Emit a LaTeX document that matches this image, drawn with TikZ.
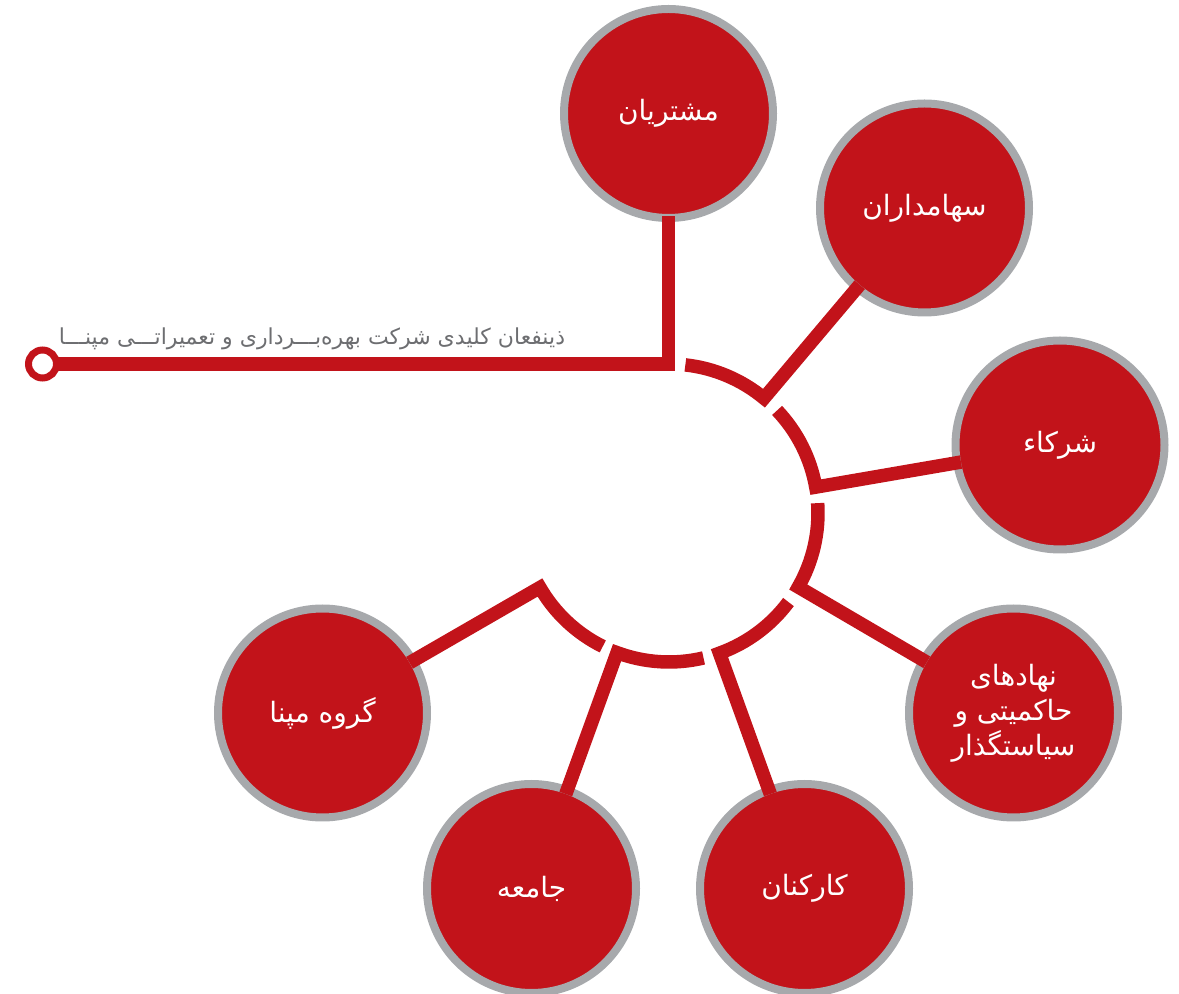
\documentclass[tikz,border=0pt]{standalone}
\usepackage{fontspec}
\TeXXeTstate=1
\newfontfamily\arabicfont[Script=Arabic]{DejaVu Sans}
\definecolor{mapnared}{HTML}{C2131A}
\definecolor{ringgray}{HTML}{A7A9AC}
\definecolor{titlegray}{HTML}{6D6E71}
\tikzset{
  party/.style={circle,draw=ringgray,fill=mapnared,line width=8pt,minimum size=209pt,inner sep=0pt,outer sep=0pt,text=white,font=\arabicfont\fontsize{28}{35}\selectfont,align=center},
  link/.style={draw=mapnared,line width=13.5pt,line join=miter,miter limit=12,shorten >=-4pt},
  titletext/.style={text=titlegray,font=\arabicfont\fontsize{22}{26}\selectfont,inner sep=0pt},
  startring/.style={circle,draw=mapnared,fill=white,line width=7pt,minimum size=28pt,inner sep=0pt,outer sep=0pt}
}
\begin{document}
\begin{tikzpicture}[x=1pt,y=1pt]
\useasboundingbox (0,0) rectangle (1179,994);
\coordinate (hub) at (669,481);
\node[party] (c1) at (668.5,880.5) {\beginR مشتریان\endR};
\node[party] (c2) at (924.5,786) {\beginR سهامداران\endR};
\node[party] (c3) at (1060,549) {\beginR شرکاء\endR};
\node[party] (c4) at (1013.5,281) {\beginR نهادهای\endR\\\beginR حاکمیتی و\endR\\\beginR سیاستگذار\endR};
\node[party] (c5) at (804.5,105.5) {\beginR کارکنان\endR};
\node[party] (c6) at (531.5,105.5) {\beginR جامعه\endR};
\node[party] (c7) at (322.5,281) {\beginR گروه مپنا\endR};
\node[titletext] (title) at (312,655) {\beginR ذینفعان کلیدی شرکت بهره‌بـــرداری و تعمیراتـــی مپنـــا\endR};
\node[startring] (start) at (42.5,630) {};
\coordinate (corner) at (668.5,630);
\draw[link,shorten >=-2pt] (start) -- (corner) -- (c1);
\draw[link] ([shift={(83.7:149pt)}]hub) arc[start angle=83.7,end angle=50.4,radius=149pt] -- (c2);
\draw[link] ([shift={(43.5:149pt)}]hub) arc[start angle=43.5,end angle=10,radius=149pt] -- (c3);
\draw[link] ([shift={(3.8:149pt)}]hub) arc[start angle=3.8,end angle=-29.8,radius=149pt] -- (c4);
\draw[link] ([shift={(-36.7:149pt)}]hub) arc[start angle=-36.7,end angle=-70.2,radius=149pt] -- (c5);
\draw[link] ([shift={(-76.6:149pt)}]hub) arc[start angle=-76.6,end angle=-110.4,radius=149pt] -- (c6);
\draw[link] ([shift={(-116.4:149pt)}]hub) arc[start angle=-116.4,end angle=-150,radius=149pt] -- (c7);
\end{tikzpicture}
\end{document}
